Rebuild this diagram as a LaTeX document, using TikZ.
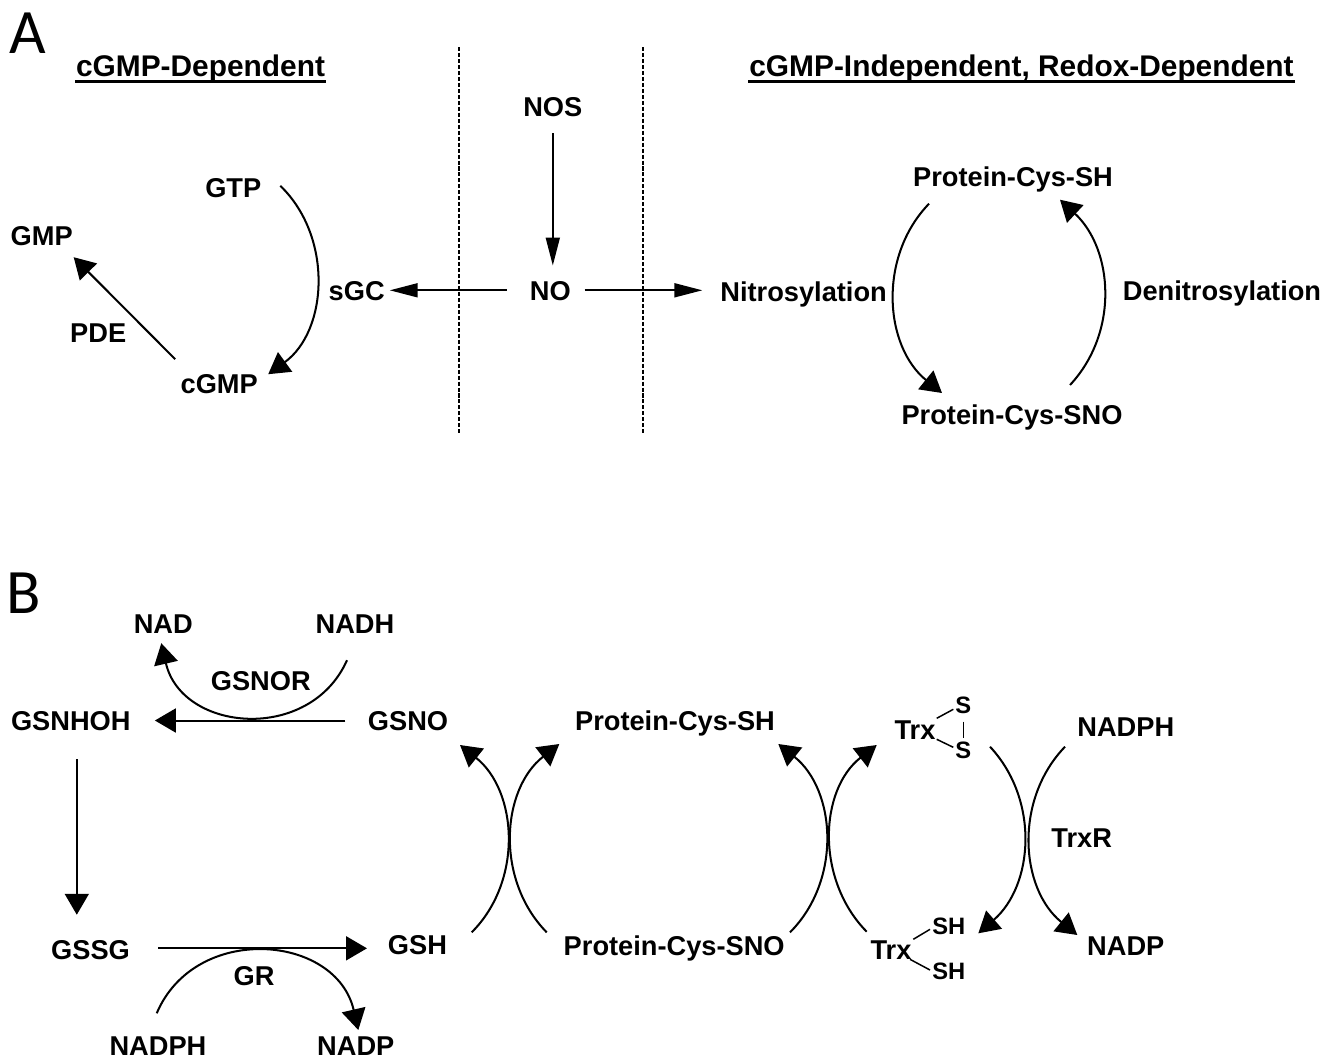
\documentclass[tikz,border=0pt]{standalone}
\usepackage{fontspec}
\setmainfont{Liberation Sans}
\newfontfamily\panelfont{Carlito}
\usetikzlibrary{arrows.meta,calc}

\begin{document}
\begin{tikzpicture}[x=0.02cm,y=-0.02cm,line width=1.15pt,
    every node/.style={font=\fontsize{15.5}{18}\selectfont\bfseries,inner sep=0pt,
                       text height=11.1pt,text depth=0pt},
    header/.style={font=\fontsize{17}{20}\selectfont\bfseries,text height=12.2pt},
    panel/.style={font=\fontsize{36}{40}\selectfont\panelfont,text height=23.6pt},
    atom/.style={font=\fontsize{13.5}{16}\selectfont\bfseries,text height=9.7pt},
    fathead/.style={-{Triangle[length=11.9pt,width=13.6pt]}},
    slimhead/.style={-{Triangle[length=15.9pt,width=7.9pt]}},
    divider/.style={line width=0.75pt,dash pattern=on 2.3pt off 1.1pt},
    uline/.style={line width=1.5pt},
    bond/.style={line width=0.85pt}]

  \useasboundingbox (0,0) rectangle (1324,1062);

  % panel A
  \node[panel]  (pA)      at (28,32.5)       {A};
  \node[header] (hdrL)    at (200.5,65.5)    {cGMP-Dependent};
  \node[header] (hdrR)    at (1021.5,65.5)   {cGMP-Independent, Redox-Dependent};
  \node         (NOS)     at (552.8,106.4)   {NOS};
  \node         (NO)      at (550.3,290.3)   {NO};
  \node         (sGC)     at (356.7,290.8)   {sGC};
  \node         (GTP)     at (233.3,187.8)   {GTP};
  \node         (cGMP)    at (219.2,384.2)   {cGMP};
  \node         (GMP)     at (41.7,236.2)    {GMP};
  \node         (PDE)     at (98.2,332.8)    {PDE};
  \node         (nitro)   at (803.6,291.3)   {Nitrosylation};
  \node         (denitro) at (1222,291)      {Denitrosylation};
  \node         (pshA)    at (1013,176.7)    {Protein-Cys-SH};
  \node         (psnoA)   at (1012,415)      {Protein-Cys-SNO};

  \draw[uline] ($(hdrL.south west)+(0,4.3)$) -- ($(hdrL.south east)+(0,4.3)$);
  \draw[uline] ($(hdrR.south west)+(0,4.3)$) -- ($(hdrR.south east)+(0,4.3)$);
  \draw[divider] (459,47) -- (459,433);
  \draw[divider] (643,47) -- (643,433);

  \draw[slimhead] ($(NOS.south)+(0,16)$) -- ($(NOS.south |- NO.north)+(0,-14)$);
  \draw[slimhead] ($(NO.west)+(-22,0)$) -- ($(NO.west -| sGC.east)+(4,0)$);
  \draw[slimhead] ($(NO.east)+(13,0)$) -- ($(NO.east -| nitro.west)+(-17,0)$);
  \draw[fathead] ($(GTP)+(47,-2)$) to[out=-44,in=36] ($(cGMP)+(49,-10)$);
  \draw[fathead] ($(cGMP)+(-44,-25)$) -- ($(GMP)+(32,21)$);
  \draw[fathead] ($(pshA)+(-84,27)$) to[out=226,in=141] ($(psnoA)+(-70,-22)$);
  \draw[fathead] ($(psnoA)+(58,-30)$) to[out=47,in=-43] ($(pshA)+(47,23)$);

  % panel B
  \node[panel]  (pB)      at (23.3,592.5)    {B};
  \node         (NAD)     at (163.3,624.2)   {NAD};
  \node         (NADH)    at (355,624.2)     {NADH};
  \node         (GSNOR)   at (260.8,680.5)   {GSNOR};
  \node         (GSNHOH)  at (70.8,720.8)    {GSNHOH};
  \node         (GSNO)    at (408,720.5)     {GSNO};
  \node         (GSSG)    at (90.5,949.5)    {GSSG};
  \node         (GSH)     at (417.5,945)     {GSH};
  \node         (GR)      at (254,975.8)     {GR};
  \node         (NADPHa)  at (158,1046)      {NADPH};
  \node         (NADPa)   at (355.8,1046)    {NADP};
  \node         (pshB)    at (675,720.8)     {Protein-Cys-SH};
  \node         (psnoB)   at (674.2,945.8)   {Protein-Cys-SNO};
  \node         (trxS)    at (915,730)       {Trx};
  \node[atom]   (S1)      at (963.3,705)     {S};
  \node[atom]   (S2)      at (963.3,750)     {S};
  \node         (trxSH)   at (891,949.7)     {Trx};
  \node[atom]   (SH1)     at (948.8,926)     {SH};
  \node[atom]   (SH2)     at (948.8,970.5)   {SH};
  \node         (NADPHb)  at (1125.8,726.7)  {NADPH};
  \node         (TrxR)    at (1081.7,837.8)  {TrxR};
  \node         (NADPb)   at (1125.8,946.2)  {NADP};

  \draw[fathead] ($(GSNO.west)+(-21.6,0)$) -- ($(GSNO.west -| GSNHOH.east)+(23.3,0)$);
  \draw[fathead] ($(NADH)+(-8,36)$) to[out=246,in=-77,looseness=1.25] ($(NAD)+(-2,19)$);
  \draw[fathead] ($(GSNHOH.south)+(6,27.7)$) -- ($(GSNHOH.south |- GSSG.north)+(6,-24)$);
  \draw[fathead] ($(GSSG.east)+(27.4,-1.2)$) -- ($(GSSG.east -| GSH.west)+(-20,-1.2)$);
  \draw[fathead] ($(NADPHa)+(-1.3,-32.7)$) to[out=67,in=103,looseness=1.25] ($(NADPa)+(2.5,-16)$);

  \draw[fathead] ($(GSH)+(54.2,-12.7)$) to[out=45,in=-38.5] ($(GSNO)+(52,24.5)$);
  \draw[fathead] ($(psnoB)+(-127.5,-13.5)$) to[out=134.5,in=218] ($(pshB)+(-115.7,23.2)$);
  \draw[fathead] ($(psnoB)+(115.8,-13.5)$) to[out=45,in=-38.5] ($(pshB)+(103.3,23.2)$);
  \draw[fathead] ($(trxSH)+(-24.3,-18)$) to[out=134.5,in=218] ($(trxS)+(-38.3,15)$);
  \draw[fathead] ($(S2)+(26.7,-3.3)$) to[out=-47,in=41] ($(SH1)+(29.5,7.3)$);
  \draw[fathead] ($(NADPHb)+(-60.8,20)$) to[out=226,in=141] ($(NADPb)+(-48.5,-11.2)$);

  \draw[bond] ($(trxS)+(21.7,-11.7)$) -- ($(S1)+(-10,4.3)$);
  \draw[bond] ($(S1)+(0,16.7)$) -- ($(S2)+(0,-11.7)$);
  \draw[bond] ($(trxS)+(21.7,9.3)$) -- ($(S2)+(-10,-2.7)$);
  \draw[bond] ($(trxSH)+(22.3,-10.4)$) -- ($(SH1)+(-18.8,3.3)$);
  \draw[bond] ($(trxSH)+(19,9.6)$) -- ($(SH2)+(-18.8,-0.5)$);
\end{tikzpicture}
\end{document}
